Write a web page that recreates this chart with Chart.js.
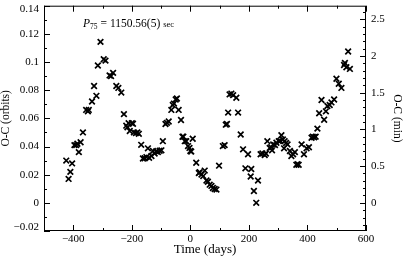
<!DOCTYPE html>
<html>
<head>
<meta charset="utf-8">
<script src="https://cdn.jsdelivr.net/npm/chart.js@4"></script>
<style>
  html, body { margin: 0; padding: 0; background: #fff; }
</style>
</head>
<body>
<canvas id="ocChart" width="403" height="259"></canvas>
<script>
// O-C residuals: time in days, O-C in orbits
const timeDays = [
  -424, -416, -410, -404, -396, -390, -386, -381, -375, -367,
  -356, -350, -347, -336, -329, -321, -316, -307, -296, -290,
  -276, -271, -264, -253, -246, -236, -227, -219, -215, -211,
  -207, -200, -196, -193, -186, -181, -176, -168, -162, -156,
  -150, -145, -141, -133, -128, -122, -117, -111, -105, -99,
  -94, -85, -80, -74, -65, -60, -56, -50, -46, -40,
  -32, -27, -24, -19, -14, -8, -3, 0, 3, 8,
  20, 29, 32, 38, 44, 49, 55, 60, 66, 72,
  77, 83, 89, 98, 111, 117, 121, 125, 129, 134,
  140, 146, 157, 163, 172, 180, 188, 197, 206, 208,
  217, 225, 231, 240, 246, 254, 258, 263, 271, 276,
  279, 283, 289, 294, 302, 307, 311, 316, 320, 322,
  327, 332, 340, 345, 351, 357, 362, 366, 370, 380,
  388, 397, 405, 414, 418, 423, 428, 434, 440, 448,
  457, 463, 468, 476, 482, 491, 499, 507, 516, 525,
  528, 533, 539, 545
];
const ocOrbits = [
  0.030, 0.017, 0.022, 0.028, 0.041, 0.041, 0.042, 0.036, 0.043, 0.050,
  0.066, 0.065, 0.066, 0.072, 0.083, 0.076, 0.0975, 0.1143, 0.102, 0.101,
  0.0905, 0.090, 0.0923, 0.083, 0.0816, 0.0783, 0.063, 0.0548, 0.0536, 0.0566,
  0.051, 0.0566, 0.0562, 0.050, 0.0495, 0.050, 0.049, 0.0412, 0.0315, 0.0317,
  0.0325, 0.0387, 0.032, 0.0333, 0.0368, 0.035, 0.0365, 0.036, 0.037, 0.0373,
  0.0438, 0.056, 0.0568, 0.0578, 0.066, 0.0695, 0.0705, 0.0734, 0.0741, 0.066,
  0.0588, 0.0469, 0.047, 0.0438, 0.0438, 0.0403, 0.039, 0.0368, 0.0364, 0.0455,
  0.0285, 0.0212, 0.0217, 0.0201, 0.019, 0.0229, 0.0159, 0.015, 0.0129, 0.012,
  0.0105, 0.0098, 0.0094, 0.0264, 0.0403, 0.041, 0.0555, 0.056, 0.0641, 0.077,
  0.0776, 0.0765, 0.0746, 0.0641, 0.0485, 0.038, 0.0245, 0.0345, 0.0187, 0.024,
  0.0084, 0.0, 0.0159, 0.0345, 0.035, 0.034, 0.035, 0.0438, 0.039, 0.0395,
  0.0373, 0.0415, 0.041, 0.0427, 0.0438, 0.044, 0.048, 0.045, 0.0387, 0.0438,
  0.0425, 0.0415, 0.0368, 0.0333, 0.0345, 0.036, 0.027, 0.0275, 0.027, 0.0415,
  0.0345, 0.0387, 0.0395, 0.0462, 0.047, 0.0466, 0.047, 0.0527, 0.0636, 0.073,
  0.059, 0.065, 0.0688, 0.0695, 0.0713, 0.0734, 0.0881, 0.0846, 0.0816, 0.0979,
  0.0993, 0.0963, 0.1075, 0.0951
];

// tick labels
const xTicks = [-400, -200, 0, 200, 400, 600];
const orbitTicks = [-0.02, 0, 0.02, 0.04, 0.06, 0.08, 0.1, 0.12, 0.14];
const minTicks = [0, 0.5, 1, 1.5, 2, 2.5];

const periodSec = 1150.56;
const orbitToMin = periodSec / 60;   // 1 orbit in minutes
const orbitMin = -0.02, orbitMax = 0.14;

const serif = "'Liberation Serif', 'DejaVu Serif', serif";
Chart.defaults.font.family = serif;
Chart.defaults.color = '#000';

function num(v) {
    return String(v).replace('-', '\u2212');
}

// no extra room for the end labels, the frame fills the canvas
function noPad(s) {
    s.paddingTop = 0;
    s.paddingBottom = 0;
    s.paddingLeft = 0;
    s.paddingRight = 0;
}

// box, inward ticks (major + minor) and the period label
const frameTicks = {
    id: 'frameTicks',
    afterDraw(chart) {
        const ctx = chart.ctx;
        const a = chart.chartArea;
        const sx = chart.scales.x, sy = chart.scales.y, sm = chart.scales.y2;
        ctx.save();
        ctx.strokeStyle = '#000';
        ctx.lineWidth = 1;
        ctx.strokeRect(a.left + 0.5, a.top + 0.5, a.right - a.left - 1, a.bottom - a.top - 1);

        ctx.beginPath();
        for (let d = -500; d <= 600; d += 100) {
            let px = Math.round(sx.getPixelForValue(d)) + 0.5;
            let len = d % 200 === 0 ? 6 : 3;
            ctx.moveTo(px, a.bottom); ctx.lineTo(px, a.bottom - len);
            ctx.moveTo(px, a.top); ctx.lineTo(px, a.top + len);
        }
        for (let i = -2; i <= 14; i++) {
            let py = Math.round(sy.getPixelForValue(i / 100)) + 0.5;
            let len = i % 2 === 0 ? 6 : 3;
            ctx.moveTo(a.left, py); ctx.lineTo(a.left + len, py);
        }
        for (let i = -3; i <= 26; i++) {
            let py = Math.round(sm.getPixelForValue(i / 10)) + 0.5;
            let len = i % 5 === 0 ? 6 : 3;
            ctx.moveTo(a.right, py); ctx.lineTo(a.right - len, py);
        }
        ctx.stroke();

        // P_75 = 1150.56(5) sec
        ctx.fillStyle = '#000';
        ctx.textBaseline = 'alphabetic';
        let x = 83, y = 27;
        ctx.font = 'italic 11.5px ' + serif;
        ctx.fillText('P', x, y);
        x += ctx.measureText('P').width;
        ctx.font = '7.5px ' + serif;
        ctx.fillText('75', x, y + 2);
        x += ctx.measureText('75').width + 3;
        ctx.font = '11.5px ' + serif;
        ctx.fillText('= 1150.56(5)', x, y);
        x += ctx.measureText('= 1150.56(5)').width + 3;
        ctx.font = '8.5px ' + serif;
        ctx.fillText('sec', x, y);
        ctx.restore();
    }
};

const points = timeDays.map((t, i) => ({ x: t, y: ocOrbits[i] }));

new Chart(document.getElementById('ocChart'), {
    type: 'scatter',
    data: {
        datasets: [{
            data: points,
            xAxisID: 'x',
            yAxisID: 'y',
            pointStyle: 'crossRot',
            pointRadius: 4,
            pointBorderWidth: 1.7,
            borderColor: '#000',
            backgroundColor: '#000'
        }]
    },
    options: {
        responsive: false,
        animation: false,
        events: [],
        layout: { padding: { top: 2, left: 0, right: 0, bottom: 0 } },
        plugins: { legend: { display: false }, tooltip: { enabled: false } },
        scales: {
            x: {
                type: 'linear',
                position: 'bottom',
                min: -500,
                max: 600,
                afterBuildTicks: (s) => { s.ticks = xTicks.map(v => ({ value: v })); },
                afterFit: (s) => { s.height = 28; noPad(s); },
                grid: { display: false, drawTicks: false },
                border: { display: false },
                ticks: { padding: 2, font: { size: 11 }, maxRotation: 0, callback: (v) => num(v) },
                title: { display: true, text: 'Time (days)', font: { size: 13 }, padding: { top: 0, bottom: 2 } }
            },
            y: {
                type: 'linear',
                position: 'left',
                min: orbitMin,
                max: orbitMax,
                afterBuildTicks: (s) => { s.ticks = orbitTicks.map(v => ({ value: v })); },
                afterFit: (s) => { s.width = 44; noPad(s); },
                grid: { display: false, drawTicks: false },
                border: { display: false },
                ticks: {
                    padding: 5,
                    font: (c) => ({ size: 11, lineHeight: (c.tick && (c.tick.value === orbitMax || c.tick.value === orbitMin)) ? 0.7 : 1.2 }),
                    callback: (v) => {
                        if (v === orbitMax) return ['', num(v)];
                        if (v === orbitMin) return [num(v), ''];
                        return num(v);
                    }
                },
                title: { display: true, text: 'O-C (orbits)', font: { size: 11.5, lineHeight: 1 }, padding: { top: 0, bottom: 0 } }
            },
            y2: {
                type: 'linear',
                position: 'right',
                min: orbitMin * orbitToMin,
                max: orbitMax * orbitToMin,
                afterBuildTicks: (s) => { s.ticks = minTicks.map(v => ({ value: v })); },
                afterFit: (s) => { s.width = 37; noPad(s); },
                grid: { display: false, drawTicks: false },
                border: { display: false },
                ticks: { padding: 5, font: { size: 11 }, callback: (v) => num(v) },
                title: { display: true, text: 'O-C (min)', font: { size: 11.5, lineHeight: 1 }, padding: { top: 0, bottom: 0 } }
            }
        }
    },
    plugins: [frameTicks]
});
</script>
</body>
</html>
